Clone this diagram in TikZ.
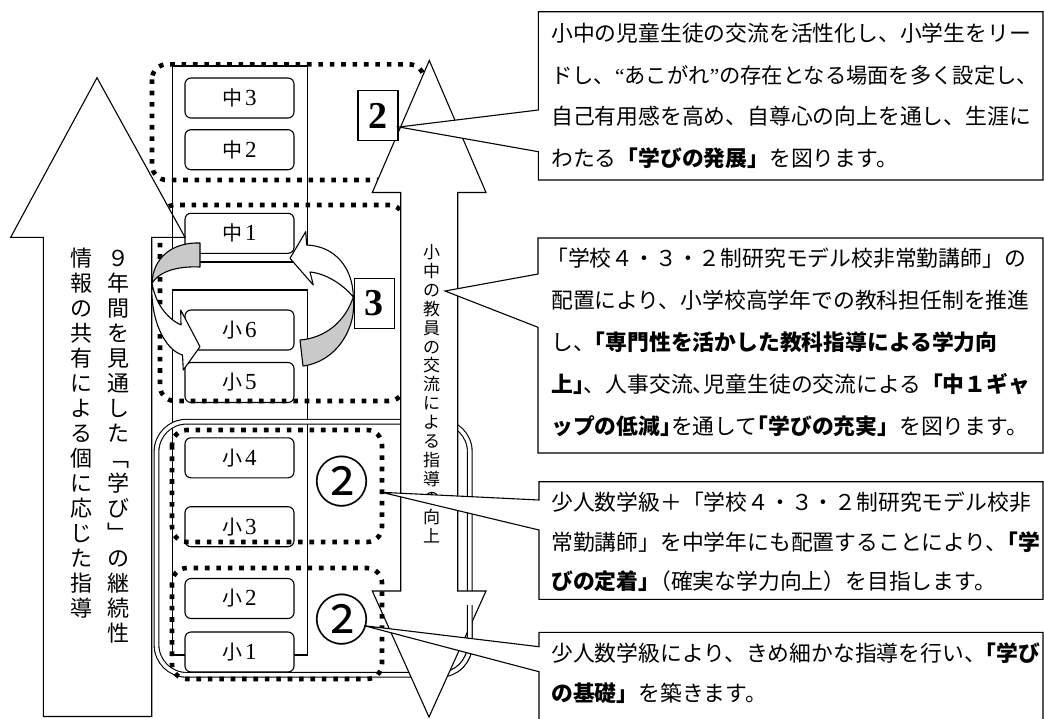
\documentclass[tikz,border=0pt]{standalone}
\usepackage{fontspec}
\setmainfont{Noto Sans CJK JP}
\newfontfamily\serifnum{Liberation Serif}
\newcommand{\hk}{\kern-.5em}
\newcommand{\gd}[1]{\kern2.5pt{\serifnum\fontsize{23}{23}\selectfont #1}}
\begin{document}
\begin{tikzpicture}[x=1pt,y=-1pt,
  ln/.style={draw=black, line width=1.1pt},
  gbox/.style={draw=black, line width=1.1pt, fill=white, rounded corners=6pt, minimum width=109pt, minimum height=40pt, inner sep=0pt, font=\fontsize{20}{20}\selectfont},
  dotr/.style={draw=black, line width=4.6pt, dash pattern=on 4.6pt off 6.8pt, rounded corners=15pt},
  callout/.style={draw=black, line width=1.1pt, fill=white},
  ctext/.style={anchor=west, inner sep=0pt, text height=19.2pt, text depth=2.6pt, font=\fontsize{21.8}{22}\selectfont},
  vbig/.style={inner sep=0pt, text height=19.4pt, text depth=2.6pt, font=\fontsize{22}{22}\selectfont},
  vsmall/.style={inner sep=0pt, text height=15pt, text depth=2pt, font=\fontsize{17}{17}\selectfont},
  numbox/.style={draw=black, line width=1.1pt, fill=white, minimum width=40pt, minimum height=50pt, inner sep=0pt, font=\serifnum\bfseries\fontsize{38}{38}\selectfont},
  circ/.style={inner sep=0pt, font=\fontsize{55}{55}\selectfont},
  crv/.style={draw=black, line width=1.1pt, line join=round},
  frame/.style={draw=black, double=white, double distance=3.6pt, line width=1.1pt, rounded corners=30pt},
]
\useasboundingbox (0,0) rectangle (1044,718);

% background rectangles of the grade column
\draw[ln] (172.3,66) rectangle (307.3,262);
\draw[ln] (172.3,290) rectangle (307.3,655);

% double rounded frame
\draw[frame] (156.5,421.7) rectangle (469.8,674.8);

% grade boxes
\node[gbox] (g9) at (239.5,98)    {中\gd{3}};
\node[gbox] (g8) at (239.5,149.7) {中\gd{2}};
\node[gbox] (g7) at (239.5,233.3) {中\gd{1}};
\node[gbox] (g6) at (239.5,330)   {小\gd{6}};
\node[gbox] (g5) at (239.5,382.5) {小\gd{5}};
\node[gbox] (g4) at (239.5,457.8) {小\gd{4}};
\node[gbox] (g3) at (239.5,526.7) {小\gd{3}};
\node[gbox] (g2) at (239.5,598.5) {小\gd{2}};
\node[gbox] (g1) at (239.5,652)   {小\gd{1}};

% upper dotted groups
\draw[dotr] (152,64.3) rectangle (424,180);
\draw[dotr] (160,205) rectangle (404,401);

% big left arrow
\path[ln, fill=white] (43.3,716.5) -- (43.3,237.3) -- (10.7,237.3) -- (97,77.7) -- (185,237.3) -- (151.7,237.3) -- (151.7,716.5) -- cycle;
\draw[ln] (172.3,205) -- (172.3,237.3);

% double vertical arrow
\path[ln, fill=white] (429.3,60.5) -- (486,192.5) -- (457.7,192.5) -- (457.7,591) -- (486,591) -- (429,717) -- (372.3,591) -- (400.7,591) -- (400.7,192.5) -- (372.3,192.5) -- cycle;
\begin{scope}
  \clip (452,605) rectangle (482,672);
  \draw[frame] (156.5,421.7) rectangle (469.8,674.8);
\end{scope}

% lower dotted groups
\draw[dotr] (172,430) rectangle (382,542);
\draw[dotr] (172,568) rectangle (382,679);

% curved exchange arrows
\path[crv, fill=black!21] (353.3,297) .. controls (357,330) and (335,362) .. (303,366) -- (300,340) .. controls (325,338) and (345,322) .. (353.3,297) -- cycle;
\path[crv, fill=white] (306.7,245) .. controls (335,246) and (353,268) .. (353.3,297) .. controls (347,289) and (330,274) .. (310,272) -- (313.3,285) -- (290,258.3) -- (305.7,231.7) -- cycle;
\path[crv, fill=black!21] (200,243) .. controls (172,242) and (153,258) .. (152,283) .. controls (160,271) and (178,266) .. (200,267) -- cycle;
\path[crv, fill=white] (152,283) .. controls (150,320) and (165,350) .. (182.5,355) -- (183.3,370) -- (200,346.7) -- (180.7,310) -- (181,325) .. controls (166,318) and (155,302) .. (152,283) -- cycle;

% vertical texts
\foreach \ch [count=\i from 0] in {９,年,間,を,見,通,し,た,﹁,学,び,﹂,の,継,続,性}
  \node[vbig] (va\i) at (118.3,258+25*\i) {\ch};
\foreach \ch [count=\i from 0] in {情,報,の,共,有,に,よ,る,個,に,応,じ,た,指,導}
  \node[vbig] (vb\i) at (81.7,258+25*\i) {\ch};
\foreach \ch [count=\i from 0] in {小,中,の,教,員,の,交,流,に,よ,る,指,導,の,向,上}
  \node[vsmall] (vc\i) at (431.7,252+18.9*\i) {\ch};

% number labels
\node[numbox] (n2) at (378,115.7) {2};
\node[numbox] (n3) at (374.2,303.3) {3};
\node[circ] (c2a) at (342.3,481.7) {②};
\node[circ] (c2b) at (342.3,620) {②};

% callouts
\coordinate (p1) at (399,127);
\coordinate (p2) at (445,291);
\coordinate (p3) at (381.7,492.3);
\coordinate (p4) at (364.3,625.7);
\path[callout] (538.3,11.7) -- (1043,11.7) -- (1043,180) -- (538.3,180) -- (538.3,151.7) -- (p1) -- (538.3,110) -- cycle;
\path[callout] (538,238) -- (1043,238) -- (1043,453) -- (538,453) -- (538,327.3) -- (p2) -- (538,274) -- cycle;
\path[callout] (539,481.7) -- (1043,481.7) -- (1043,599.3) -- (539,599.3) -- (539,530) -- (p3) -- (539,500) -- cycle;
\path[callout] (539,632.3) -- (1043,632.3) -- (1043,730) -- (539,730) -- (539,671.7) -- (p4) -- (539,646.7) -- cycle;

\node[ctext] (t11) at (551,33.5) {小中の児童生徒の交流を活性化し、小学生をリー};
\node[ctext, font=\fontsize{21.3}{22}\selectfont] (t12) at (551,75) {ドし、{\serifnum “}あこがれ{\serifnum ”}の存在となる場面を多く設定し、};
\node[ctext] (t13) at (551,116.5) {自己有用感を高め、自尊心の向上を通し、生涯に};
\node[ctext] (t14) at (551,158) {わたる{\bfseries 「学びの発展」}を図ります。};

\node[ctext] (t21) at (546,258) {「学校４・３・２制研究モデル校非常勤講師」の};
\node[ctext] (t22) at (551,300) {配置により、小学校高学年での教科担任制を推進};
\node[ctext] (t23) at (551,342) {し、\hk{\bfseries 「専門性を活かした教科指導による学力向}};
\node[ctext] (t24) at (551,384) {{\bfseries 上」}\hk、人事交流、\hk 児童生徒の交流による{\bfseries 「中１ギャ}};
\node[ctext] (t25) at (551,426) {{\bfseries ップの低減」}\hk を通して\hk{\bfseries 「学びの充実」}を図ります。};

\node[ctext] (t31) at (551,502) {少人数学級＋「学校４・３・２制研究モデル校非};
\node[ctext] (t32) at (551,542) {常勤講師」を中学年にも配置することにより、\hk{\bfseries 「学}};
\node[ctext] (t33) at (551,581) {{\bfseries びの定着」}\hk（確実な学力向上）を目指します。};

\node[ctext] (t41) at (551,653) {少人数学級により、きめ細かな指導を行い、\hk{\bfseries 「学び}};
\node[ctext] (t42) at (551,693) {{\bfseries の基礎」}を築きます。};
\end{tikzpicture}
\end{document}
